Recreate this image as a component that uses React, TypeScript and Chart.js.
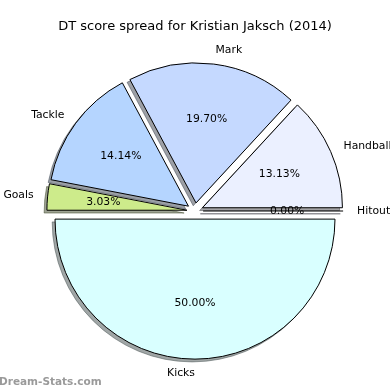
import React, { useEffect, useRef } from 'react';
import { Chart, registerables } from 'chart.js';

Chart.register(...registerables);

// ---- data ----
const chartTitle = 'DT score spread for Kristian Jaksch (2014)';
const categories = ['Kicks', 'Goals', 'Tackle', 'Mark', 'Handball', 'Hitout'];
const scores = [99, 6, 28, 39, 26, 0];
const sliceColors = ['#d9ffff', '#cdeb8b', '#b5d5ff', '#c5d9ff', '#ebf0ff', '#e6e6ff'];
const watermark = 'Dream-Stats.com';

// ---- style constants ----
const EXPLODE = 0.058; // fraction of radius
const SHADOW = 0.02; // fraction of radius
const LABEL_FONT = '10.8px "DejaVu Sans"';

function hexToRgb(h: string) {
  const n = parseInt(h.slice(1), 16);
  return [(n >> 16) & 255, (n >> 8) & 255, n & 255];
}

const total = scores.reduce((a, b) => a + b, 0);

const mplPie = {
  id: 'mplPie',
  beforeDatasetsDraw(chart: any) {
    const ctx = chart.ctx;
    const ca = chart.chartArea;
    const cx = (ca.left + ca.right) / 2;
    const cy = (ca.top + ca.bottom) / 2;
    const meta = chart.getDatasetMeta(0);
    meta.data.forEach((arc: any) => {
      const mid = (arc.startAngle + arc.endAngle) / 2;
      const d = EXPLODE * arc.outerRadius;
      arc.x = cx + Math.cos(mid) * d;
      arc.y = cy + Math.sin(mid) * d;
    });
    ctx.save();
    meta.data.forEach((arc: any, i: number) => {
      const [r, g, b] = hexToRgb(sliceColors[i]);
      const col = `rgba(${0.3 * r},${0.3 * g},${0.3 * b},0.5)`;
      const R = arc.outerRadius;
      const x = arc.x - SHADOW * R;
      const y = arc.y + SHADOW * R;
      ctx.fillStyle = col;
      ctx.strokeStyle = col;
      ctx.lineWidth = 1;
      ctx.lineJoin = 'miter';
      ctx.beginPath();
      ctx.moveTo(x, y);
      ctx.arc(x, y, R, arc.startAngle, arc.endAngle);
      ctx.closePath();
      ctx.fill();
      ctx.stroke();
    });
    ctx.restore();
  },
  afterDatasetsDraw(chart: any) {
    const ctx = chart.ctx;
    const meta = chart.getDatasetMeta(0);
    ctx.save();
    // zero-size wedges drawn as a line
    meta.data.forEach((arc: any) => {
      if (Math.abs(arc.endAngle - arc.startAngle) < 1e-9) {
        const R = arc.outerRadius;
        ctx.strokeStyle = '#000';
        ctx.lineWidth = 1;
        ctx.beginPath();
        ctx.moveTo(arc.x, arc.y);
        ctx.lineTo(arc.x + Math.cos(arc.startAngle) * R, arc.y + Math.sin(arc.startAngle) * R);
        ctx.stroke();
      }
    });
    ctx.fillStyle = '#000';
    ctx.font = LABEL_FONT;
    ctx.textBaseline = 'middle';
    meta.data.forEach((arc: any, i: number) => {
      const mid = (arc.startAngle + arc.endAngle) / 2;
      const R = arc.outerRadius;
      const c = Math.cos(mid);
      const s = Math.sin(mid);
      // category label
      ctx.textAlign = c > 1e-6 ? 'left' : 'right';
      ctx.fillText(categories[i], arc.x + 1.1 * R * c, arc.y + 1.1 * R * s);
      // percentage
      ctx.textAlign = 'center';
      const pct = ((scores[i] / total) * 100).toFixed(2) + '%';
      ctx.fillText(pct, arc.x + 0.6 * R * c, arc.y + 0.6 * R * s);
    });
    // title
    ctx.font = '13px "DejaVu Sans"';
    ctx.textAlign = 'center';
    ctx.textBaseline = 'alphabetic';
    ctx.fillText(chartTitle, 195, 30);
    // watermark
    ctx.font = 'bold 10.5px "DejaVu Sans"';
    ctx.fillStyle = '#9a9a9a';
    ctx.textAlign = 'left';
    ctx.fillText(watermark, -1, 385);
    ctx.restore();
  },
};

export default function App() {
  const ref = useRef<HTMLCanvasElement>(null);
  useEffect(() => {
    document.body.style.margin = '0';
    const chart = new Chart(ref.current as HTMLCanvasElement, {
      type: 'pie',
      data: {
        labels: categories,
        datasets: [
          {
            data: scores,
            backgroundColor: sliceColors,
            borderColor: '#000',
            borderWidth: 1,
            borderJoinStyle: 'miter',
          } as any,
        ],
      },
      options: {
        animation: false,
        responsive: false,
        maintainAspectRatio: false,
        events: [],
        rotation: 90,
        radius: 140,
        layout: { padding: { top: 32, bottom: 0, left: 0, right: 0 } },
        plugins: {
          legend: { display: false },
          tooltip: { enabled: false },
          title: { display: false },
        },
      } as any,
      plugins: [mplPie],
    });
    return () => chart.destroy();
  }, []);
  return (
    <div style={{ width: 390, height: 390, background: '#fff' }}>
      <canvas ref={ref} width={390} height={390} />
    </div>
  );
}
